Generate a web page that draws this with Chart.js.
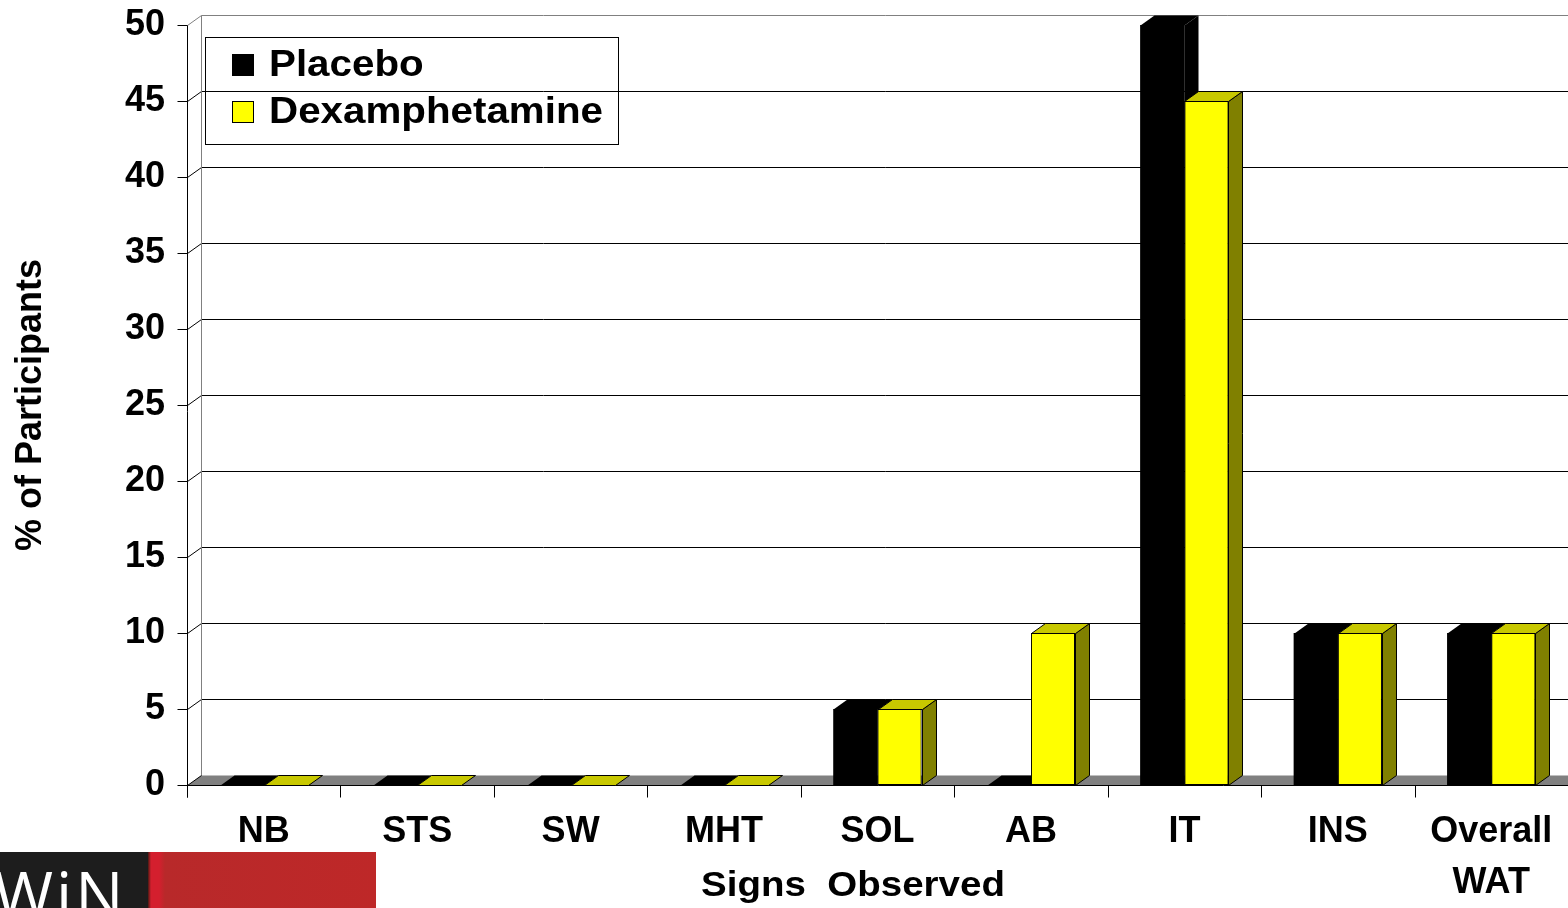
<!DOCTYPE html>
<html>
<head>
<meta charset="utf-8">
<script src="https://cdn.jsdelivr.net/npm/chart.js@4/dist/chart.umd.min.js"></script>
<style>
  html, body { margin: 0; padding: 0; background: #fff; overflow: hidden; }
  #wrap { position: relative; width: 1568px; height: 908px; }
  #logo { position: absolute; left: 0; top: 852px; width: 376px; height: 56px; overflow: hidden; }
  #logo .dark { position: absolute; left: 0; top: 0; width: 148px; height: 56px; background: #1d1d1d; overflow: hidden; }
  #logo .dark span { position: absolute; left: -6px; top: 10px; font: 400 64px 'Open Sans', 'Liberation Sans', sans-serif; color: #fff; line-height: 1; letter-spacing: 3px; }
  #logo .red { position: absolute; left: 148px; top: 0; width: 228px; height: 56px;
    background: linear-gradient(to right, #4a1a12 0px, #d41f2e 3px, #d41f2e 11px, #b8292a 17px, #be2828 100%); }
</style>
</head>
<body>
<div id="wrap">
  <canvas id="chart" width="1568" height="908"></canvas>
  <div id="logo"><div class="dark"><span>WiN</span></div><div class="red"></div></div>
</div>
<script>
// Signs observed, % of participants per group
const categories = ['NB', 'STS', 'SW', 'MHT', 'SOL', 'AB', 'IT', 'INS', ['Overall', 'WAT']];
const placebo = [0, 0, 0, 0, 5, 0, 50, 10, 10];
const dexamphetamine = [0, 0, 0, 0, 5, 10, 45, 10, 10];
const seriesNames = ['Placebo', 'Dexamphetamine'];
const yTickValues = [0, 5, 10, 15, 20, 25, 30, 35, 40, 45, 50];
const xTitle = 'Signs  Observed';
const yTitle = '% of Participants';

const FONT = "'Liberation Sans', Arial, sans-serif";
const DX = 14;   // horizontal depth of the 3-D box
const DY = 10;   // vertical depth of the 3-D box

function poly(ctx, pts) {
  ctx.beginPath();
  ctx.moveTo(pts[0][0], pts[0][1]);
  for (let i = 1; i < pts.length; i++) ctx.lineTo(pts[i][0], pts[i][1]);
  ctx.closePath();
}

// text drawn slightly widened, like the slide's stretched lettering
function wideText(ctx, text, x, y, sx) {
  ctx.save();
  ctx.translate(x, y);
  ctx.scale(sx, 1);
  ctx.fillText(text, 0, 0);
  ctx.restore();
}

// Back wall, floor, gridlines and axis lines drawn with a depth offset
const depthPlugin = {
  id: 'depth3d',
  beforeDatasetsDraw(chart) {
    const { ctx, chartArea: a, scales: { x, y } } = chart;
    const y0 = Math.round(y.getPixelForValue(0)) + 0.5;
    const yMax = Math.round(y.getPixelForValue(y.max)) + 0.5;
    const L = Math.round(a.left) + 0.5;
    const R = a.right + DX + 2;
    ctx.save();
    ctx.lineWidth = 1;

    // gridlines on the back wall, joined to the front axis by the side wall
    y.ticks.forEach(t => {
      if (t.value === 0) return;
      const py = Math.round(y.getPixelForValue(t.value)) + 0.5;
      ctx.strokeStyle = t.value === y.max ? '#808080' : '#000';
      ctx.beginPath();
      ctx.moveTo(L, py);
      ctx.lineTo(L + DX, py - DY);
      ctx.lineTo(R, py - DY);
      ctx.stroke();
    });

    // left edge of the back wall
    ctx.strokeStyle = '#808080';
    ctx.beginPath();
    ctx.moveTo(L + DX, yMax - DY);
    ctx.lineTo(L + DX, y0 - DY);
    ctx.stroke();

    // floor
    ctx.fillStyle = '#808080';
    poly(ctx, [[L, y0], [R, y0], [R, y0 - DY], [L + DX, y0 - DY]]);
    ctx.fill();
    ctx.strokeStyle = '#000';
    ctx.beginPath();
    ctx.moveTo(L + DX, y0 - DY);
    ctx.lineTo(L, y0);
    ctx.lineTo(R, y0);
    ctx.stroke();

    // value axis with tick marks
    ctx.strokeStyle = '#000';
    ctx.beginPath();
    ctx.moveTo(L, yMax);
    ctx.lineTo(L, y0 + 12);
    y.ticks.forEach(t => {
      const py = Math.round(y.getPixelForValue(t.value)) + 0.5;
      ctx.moveTo(L - 10, py);
      ctx.lineTo(L, py);
    });
    // category boundary ticks
    const n = x.ticks.length;
    const step = (a.right - a.left) / n;
    for (let i = 0; i <= n; i++) {
      const px = Math.round(x.getPixelForValue(0) - step / 2 + i * step) + 0.5;
      ctx.moveTo(px, y0);
      ctx.lineTo(px, y0 + 12);
    }
    ctx.stroke();
    ctx.restore();
  },
  afterDatasetsDraw(chart) {
    const { ctx } = chart;
    ctx.save();
    chart.data.datasets.forEach((ds, i) => {
      const meta = chart.getDatasetMeta(i);
      meta.data.forEach(bar => {
        const { x: cx, y: top, base, width } = bar.getProps(['x', 'y', 'base', 'width'], true);
        const l = Math.round(cx - width / 2) + 0.5;
        const r = Math.round(cx + width / 2) + 0.5;
        const t = Math.round(top) + 0.5;
        const b = Math.round(base) + 0.5;
        ctx.lineWidth = 1;
        ctx.strokeStyle = ds.edgeColor;
        // side face
        if (b - t > 1) {
          ctx.fillStyle = ds.sideColor;
          poly(ctx, [[r, t], [r + DX, t - DY], [r + DX, b - DY], [r, b]]);
          ctx.fill();
          if (ds.outlined) ctx.stroke();
        }
        // top face
        ctx.fillStyle = ds.topColor;
        poly(ctx, [[l, t], [r, t], [r + DX, t - DY], [l + DX, t - DY]]);
        ctx.fill();
        if (ds.outlined) ctx.stroke();
        // front face, redrawn so the series overlap in depth order
        if (b - t > 1) bar.draw(ctx, chart.chartArea);
      });
    });
    ctx.restore();
  },
  afterDraw(chart) {
    const { ctx } = chart;
    ctx.save();
    // legend
    ctx.lineWidth = 1;
    ctx.strokeStyle = '#000';
    ctx.strokeRect(205.5, 37.5, 413, 107);
    ctx.font = `bold 37px ${FONT}`;
    ctx.textBaseline = 'middle';
    ctx.textAlign = 'left';
    chart.data.datasets.forEach((ds, i) => {
      const cy = 65 + i * 47;
      ctx.fillStyle = ds.backgroundColor;
      ctx.fillRect(232, cy - 11, 22, 22);
      if (ds.outlined) ctx.strokeRect(232.5, cy - 10.5, 21, 21);
      ctx.fillStyle = '#000';
      wideText(ctx, ds.label, 269, cy + 1, 1.09);
    });
    // category axis title
    ctx.font = `bold 35px ${FONT}`;
    ctx.textAlign = 'center';
    wideText(ctx, xTitle, 853, 886, 1.1);
    ctx.restore();
  }
};

new Chart(document.getElementById('chart'), {
  type: 'bar',
  data: {
    labels: categories,
    datasets: [
      { label: seriesNames[0], data: placebo, backgroundColor: '#000000', borderWidth: 0,
        topColor: '#000000', sideColor: '#000000', edgeColor: '#000000', outlined: false },
      { label: seriesNames[1], data: dexamphetamine, backgroundColor: '#FFFF00', borderColor: '#000000',
        borderWidth: 1, borderSkipped: false,
        topColor: '#C8C800', sideColor: '#808000', edgeColor: '#000000', outlined: true }
    ]
  },
  options: {
    responsive: false,
    animation: false,
    layout: { padding: { top: 25, left: 0, right: 0, bottom: 0 } },
    datasets: { bar: { categoryPercentage: 0.574, barPercentage: 1 } },
    plugins: { legend: { display: false }, tooltip: { enabled: false } },
    scales: {
      x: {
        grid: { display: false, drawTicks: false },
        border: { display: false },
        ticks: { color: '#000', font: { family: FONT, size: 36, weight: 'bold', lineHeight: 1.4 },
                 padding: 22, maxRotation: 0, autoSkip: false },
        afterFit(s) { s.height = 123; s.paddingLeft = 0; s.paddingRight = 0; }
      },
      y: {
        min: 0, max: 50,
        afterBuildTicks(s) { s.ticks = yTickValues.map(v => ({ value: v })); },
        grid: { display: false, drawTicks: false },
        border: { display: false },
        ticks: { color: '#000', font: { family: FONT, size: 36, weight: 'bold' }, padding: 22 },
        title: { display: true, text: yTitle, color: '#000',
                 font: { family: FONT, size: 36, weight: 'bold' }, padding: { top: 9, bottom: 0 } },
        afterFit(s) { s.width = 187; s.paddingTop = 0; s.paddingBottom = 0; }
      }
    }
  },
  plugins: [depthPlugin]
});
</script>
</body>
</html>
